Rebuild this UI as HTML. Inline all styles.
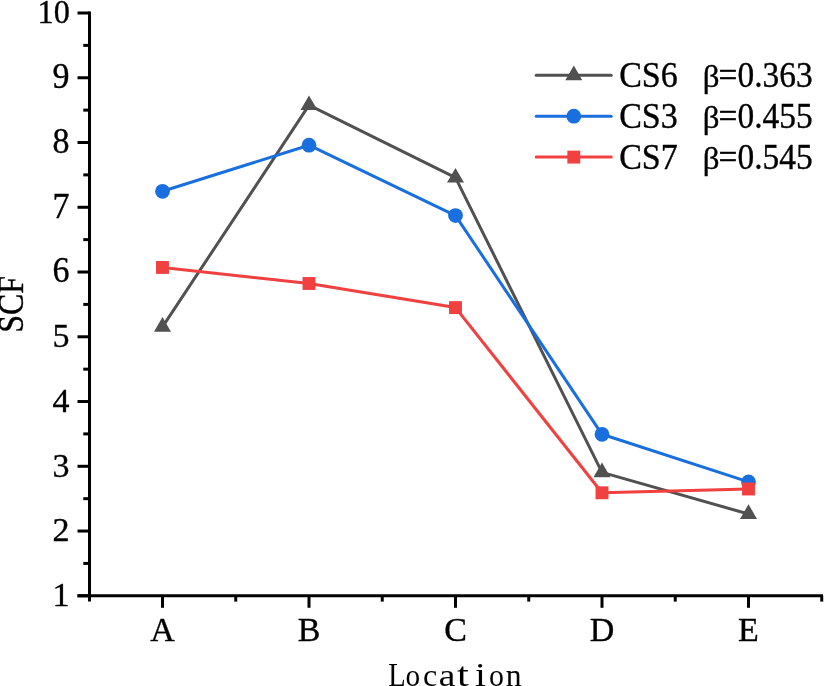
<!DOCTYPE html>
<html><head><meta charset="utf-8"><style>
html,body{margin:0;padding:0;background:#fff;width:824px;height:686px;overflow:hidden;font-family:"Liberation Serif",serif;}
svg{display:block;will-change:transform;}
</style></head><body>
<svg width="824" height="686" viewBox="0 0 824 686"><g stroke="#000" stroke-width="3" fill="none">
<line x1="89.50" y1="11.50" x2="89.50" y2="601.60"/>
<line x1="77.50" y1="595.80" x2="823.00" y2="595.80"/>
<line x1="77.50" y1="595.80" x2="89.50" y2="595.80"/>
<line x1="83.30" y1="563.42" x2="89.50" y2="563.42"/>
<line x1="77.50" y1="531.04" x2="89.50" y2="531.04"/>
<line x1="83.30" y1="498.67" x2="89.50" y2="498.67"/>
<line x1="77.50" y1="466.29" x2="89.50" y2="466.29"/>
<line x1="83.30" y1="433.91" x2="89.50" y2="433.91"/>
<line x1="77.50" y1="401.53" x2="89.50" y2="401.53"/>
<line x1="83.30" y1="369.16" x2="89.50" y2="369.16"/>
<line x1="77.50" y1="336.78" x2="89.50" y2="336.78"/>
<line x1="83.30" y1="304.40" x2="89.50" y2="304.40"/>
<line x1="77.50" y1="272.02" x2="89.50" y2="272.02"/>
<line x1="83.30" y1="239.64" x2="89.50" y2="239.64"/>
<line x1="77.50" y1="207.27" x2="89.50" y2="207.27"/>
<line x1="83.30" y1="174.89" x2="89.50" y2="174.89"/>
<line x1="77.50" y1="142.51" x2="89.50" y2="142.51"/>
<line x1="83.30" y1="110.13" x2="89.50" y2="110.13"/>
<line x1="77.50" y1="77.76" x2="89.50" y2="77.76"/>
<line x1="83.30" y1="45.38" x2="89.50" y2="45.38"/>
<line x1="77.50" y1="13.00" x2="89.50" y2="13.00"/>
<line x1="162.50" y1="595.80" x2="162.50" y2="607.80"/>
<line x1="309.00" y1="595.80" x2="309.00" y2="607.80"/>
<line x1="455.50" y1="595.80" x2="455.50" y2="607.80"/>
<line x1="602.00" y1="595.80" x2="602.00" y2="607.80"/>
<line x1="748.50" y1="595.80" x2="748.50" y2="607.80"/>
<line x1="235.75" y1="595.80" x2="235.75" y2="601.60"/>
<line x1="382.25" y1="595.80" x2="382.25" y2="601.60"/>
<line x1="528.75" y1="595.80" x2="528.75" y2="601.60"/>
<line x1="675.25" y1="595.80" x2="675.25" y2="601.60"/>
<line x1="821.75" y1="595.80" x2="821.75" y2="601.60"/>
</g>
<g font-family="Liberation Serif" font-size="34" fill="#000" stroke="#000" stroke-width="0.35">
<text transform="translate(69.60,606.10) scale(1.000,1.010)" text-anchor="end">1</text>
<text transform="translate(69.60,541.34) scale(1.000,1.000)" text-anchor="end">2</text>
<text transform="translate(69.60,476.59) scale(1.000,0.995)" text-anchor="end">3</text>
<text transform="translate(69.60,411.83) scale(1.000,1.005)" text-anchor="end">4</text>
<text transform="translate(69.60,347.08) scale(1.000,1.000)" text-anchor="end">5</text>
<text transform="translate(69.60,282.32) scale(1.000,1.030)" text-anchor="end">6</text>
<text transform="translate(69.60,217.57) scale(1.000,1.030)" text-anchor="end">7</text>
<text transform="translate(69.60,152.81) scale(1.000,1.025)" text-anchor="end">8</text>
<text transform="translate(69.60,88.06) scale(1.000,1.033)" text-anchor="end">9</text>
<text transform="translate(69.90,23.30) scale(0.950,1.010)" text-anchor="end">10</text>
<text transform="translate(162.50,640.90) scale(1.000,1.010)" text-anchor="middle">A</text>
<text transform="translate(309.00,640.90) scale(1.000,1.010)" text-anchor="middle">B</text>
<text transform="translate(455.50,640.90) scale(1.000,1.010)" text-anchor="middle">C</text>
<text transform="translate(602.00,640.90) scale(1.000,1.010)" text-anchor="middle">D</text>
<text transform="translate(748.50,640.90) scale(1.000,1.010)" text-anchor="middle">E</text>
<text transform="translate(22.7,304.4) rotate(-90) scale(0.938,1.05)" text-anchor="middle">SCF</text>
<text transform="translate(396.60,685.5) scale(0.840,1.000)" x="0.53" text-anchor="middle" stroke-width="0">L</text>
<text transform="translate(412.90,685.5) scale(0.860,0.925)" x="-0.00" text-anchor="middle" stroke-width="0">o</text>
<text transform="translate(430.30,685.5) scale(0.940,0.925)" x="-0.12" text-anchor="middle" stroke-width="0">c</text>
<text transform="translate(447.40,685.5) scale(1.100,0.925)" x="-0.37" text-anchor="middle" stroke-width="0">a</text>
<text transform="translate(463.10,685.5) scale(1.250,1.000)" x="-0.07" text-anchor="middle" stroke-width="0">t</text>
<text transform="translate(480.50,685.5) scale(1.150,0.970)" x="-0.03" text-anchor="middle" stroke-width="0">i</text>
<text transform="translate(496.40,685.5) scale(0.880,0.925)" x="-0.00" text-anchor="middle" stroke-width="0">o</text>
<text transform="translate(513.70,685.5) scale(0.930,0.925)" x="-0.13" text-anchor="middle" stroke-width="0">n</text>
</g>
<polyline points="162.50,326.90 309.00,105.20 455.50,177.70 602.00,472.40 748.50,514.00" fill="none" stroke="#515151" stroke-width="3.00" stroke-linejoin="round"/>
<polygon points="162.50,317.10 170.99,331.80 154.01,331.80" fill="#515151"/>
<polygon points="309.00,95.40 317.49,110.10 300.51,110.10" fill="#515151"/>
<polygon points="455.50,167.90 463.99,182.60 447.01,182.60" fill="#515151"/>
<polygon points="602.00,462.60 610.49,477.30 593.51,477.30" fill="#515151"/>
<polygon points="748.50,504.20 756.99,518.90 740.01,518.90" fill="#515151"/>
<polyline points="162.50,191.30 309.00,145.20 455.50,215.60 602.00,434.30 748.50,481.90" fill="none" stroke="#1A6FDF" stroke-width="3.00" stroke-linejoin="round"/>
<circle cx="162.50" cy="191.30" r="7.40" fill="#1A6FDF"/>
<circle cx="309.00" cy="145.20" r="7.40" fill="#1A6FDF"/>
<circle cx="455.50" cy="215.60" r="7.40" fill="#1A6FDF"/>
<circle cx="602.00" cy="434.30" r="7.40" fill="#1A6FDF"/>
<circle cx="748.50" cy="481.90" r="7.40" fill="#1A6FDF"/>
<polyline points="162.50,267.45 309.00,283.50 455.50,307.60 602.00,492.80 748.50,489.00" fill="none" stroke="#F14040" stroke-width="3.00" stroke-linejoin="round"/>
<rect x="156.05" y="261.00" width="12.90" height="12.90" fill="#F14040"/>
<rect x="302.55" y="277.05" width="12.90" height="12.90" fill="#F14040"/>
<rect x="449.05" y="301.15" width="12.90" height="12.90" fill="#F14040"/>
<rect x="595.55" y="486.35" width="12.90" height="12.90" fill="#F14040"/>
<rect x="742.05" y="482.55" width="12.90" height="12.90" fill="#F14040"/>
<line x1="536.20" y1="75.30" x2="611.20" y2="75.30" stroke="#515151" stroke-width="3.00" stroke-linecap="round"/>
<polygon points="573.80,65.50 582.29,80.20 565.31,80.20" fill="#515151"/>
<g font-family="Liberation Serif" font-size="34" fill="#000" stroke="#000" stroke-width="0.35">
<text transform="translate(619.20,87.00) scale(1.000,1.045)" text-anchor="start">CS6</text>
<text transform="translate(702.80,87.00) scale(0.970,0.950)" text-anchor="start">&#946;</text>
<text transform="translate(718.60,87.00) scale(0.983,1.045)" text-anchor="start">=0.363</text>
</g>
<line x1="536.20" y1="116.20" x2="611.20" y2="116.20" stroke="#1A6FDF" stroke-width="3.00" stroke-linecap="round"/>
<circle cx="573.80" cy="116.20" r="7.40" fill="#1A6FDF"/>
<g font-family="Liberation Serif" font-size="34" fill="#000" stroke="#000" stroke-width="0.35">
<text transform="translate(619.20,127.90) scale(1.000,1.045)" text-anchor="start">CS3</text>
<text transform="translate(702.80,127.90) scale(0.970,0.950)" text-anchor="start">&#946;</text>
<text transform="translate(718.60,127.90) scale(0.983,1.045)" text-anchor="start">=0.455</text>
</g>
<line x1="536.20" y1="157.10" x2="611.20" y2="157.10" stroke="#F14040" stroke-width="3.00" stroke-linecap="round"/>
<rect x="567.35" y="150.65" width="12.90" height="12.90" fill="#F14040"/>
<g font-family="Liberation Serif" font-size="34" fill="#000" stroke="#000" stroke-width="0.35">
<text transform="translate(619.20,168.80) scale(1.000,1.045)" text-anchor="start">CS7</text>
<text transform="translate(702.80,168.80) scale(0.970,0.950)" text-anchor="start">&#946;</text>
<text transform="translate(718.60,168.80) scale(0.983,1.045)" text-anchor="start">=0.545</text>
</g></svg>
</body></html>
